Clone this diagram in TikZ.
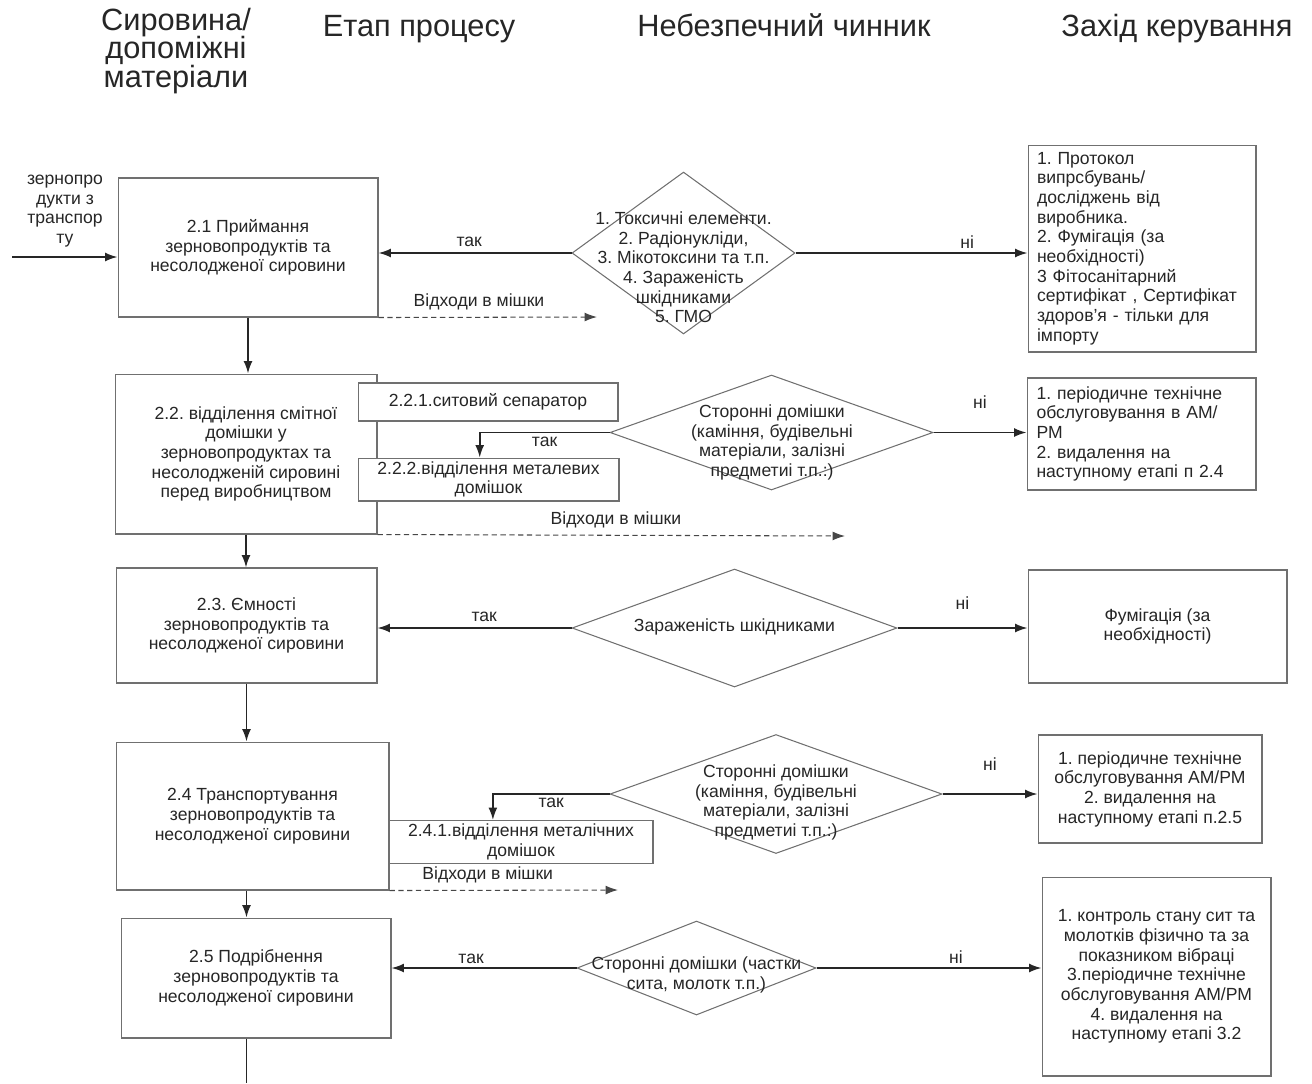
\documentclass[tikz,border=0pt]{standalone}
\usepackage{fontspec}
\setmainfont{Liberation Sans}
\usetikzlibrary{shapes.geometric,arrows.meta}
\frenchspacing
\definecolor{ink}{HTML}{262626}
\definecolor{edge}{HTML}{707070}
\newcommand\headfont{\fontsize{17.5}{16}\selectfont\lineskiplimit=-20pt\relax}
\tikzset{stage/.style={draw=edge, line width=0.6pt, fill=white, align=center, inner sep=2pt}}
\tikzset{hazard/.style={diamond, draw=edge, line width=0.6pt, inner sep=0pt}}
\tikzset{flow/.style={draw=ink, line width=0.9pt, -{Latex[length=7pt,width=5pt]}}}
\tikzset{waste/.style={draw=ink!85, line width=0.6pt, densely dashed, -{Latex[length=7pt,width=5pt]}}}
\tikzset{lbl/.style={text=ink, inner sep=1pt}}
\tikzset{head/.style={text=ink, align=center, font=\headfont}}

\begin{document}
\begin{tikzpicture}[x=0.02cm, y=-0.02cm, font=\fontsize{10}{11.2}\selectfont, text=ink]
  \useasboundingbox (0,0) rectangle (1312,1083);
  % column headings
  \node[head] (hraw) at (176,51) {Сировина/\\допоміжні\\матеріали};
  \node[head, anchor=base] (hstep) at (419,36) {Етап процесу};
  \node[head, anchor=base] (hhaz) at (784,36) {Небезпечний чинник};
  \node[head, anchor=base] (hctl) at (1177,36) {Захід керування};

  % 2.1
  \coordinate (in) at (12,257);
  \node[lbl, align=center] (src) at (65,211) {зернопро\\дукти з\\транспор\\ту};
  \node[stage, minimum width=5.2cm, minimum height=2.78cm] (box21) at (248,247.5) {2.1 Приймання\\зерновопродуктів та\\несолодженої сировини};
  \node[hazard, minimum width=4.46cm, minimum height=3.24cm] (d1) at (683.5,253) {};
  \node[lbl, align=center] (d1t) at (683.5,267.5) {1. Токсичні елементи.\\2. Радіонукліди,\\3. Мікотоксини та т.п.\\4. Зараженість\\шкідниками\\5. ГМО};
  \node[stage, align=left, text width=4.2cm, minimum width=4.56cm, minimum height=4.14cm] (ctrl1) at (1142,248.5) {1. Протокол\\випрсбувань/\\досліджень від\\виробника.\\2. Фумігація (за\\необхідності)\\3 Фітосанітарний\\сертифікат , Сертифікат\\здоров'я - тільки для\\імпорту};
  \coordinate (w1) at (597,317);
  \draw[flow] (in) -- (in -| box21.west);
  \draw[flow] (d1.west) -- node[lbl, above=2pt, pos=0.53] (y1) {так} (box21.east |- d1.west);
  \draw[flow] (d1.east) -- node[lbl, above=1pt, pos=0.74] (n1) {ні} (d1.east -| ctrl1.west);
  \draw[waste] (box21.south east) -- node[lbl, above=3pt, pos=0.46] (w1t) {Відходи в мішки} (w1);

  % 2.2
  \node[stage, minimum width=5.24cm, minimum height=3.2cm] (box22) at (246,454) {2.2. відділення смітної\\домішки у\\зерновопродуктах та\\несолодженій сировині\\перед виробництвом};
  \node[stage, minimum width=5.2cm, minimum height=0.76cm] (box221) at (488,402) {2.2.1.ситовий сепаратор};
  \node[stage, minimum width=5.22cm, minimum height=0.82cm] (box222) at (488.5,479.5) {2.2.2.відділення металевих\\домішок};
  \node[hazard, minimum width=6.46cm, minimum height=2.3cm] (d2) at (771.5,432.5) {};
  \node[lbl, align=center] (d2t) at (772,442.5) {Сторонні домішки\\(каміння, будівельні\\матеріали, залізні\\предметиі т.п.:)};
  \node[stage, align=left, text width=4.2cm, minimum width=4.58cm, minimum height=2.24cm] (ctrl2) at (1141.5,434) {1. періодичне технічне\\обслуговування в АМ/\\РМ\\2. видалення на\\наступному етапі п 2.4};
  \coordinate (w2) at (845,536);
  \draw[flow] (box21.south) -- (box21.south |- box22.north);
  \draw[flow] (d2.west) -| node[lbl, below=1pt, pos=0.25] (y2) {так} ([xshift=-5pt]box222.north);
  \draw[flow] (d2.east) -- node[lbl, above=12pt] (n2) {ні} (d2.east -| ctrl2.west);
  \draw[waste] (box22.south east) -- node[lbl, above=3pt, pos=0.51] (w2t) {Відходи в мішки} (w2);

  % 2.3
  \node[stage, minimum width=5.22cm, minimum height=2.3cm] (box23) at (246.5,625.5) {2.3. Ємності\\зерновопродуктів та\\несолодженої сировини};
  \node[hazard, minimum width=6.5cm, minimum height=2.36cm] (d3) at (734.5,628) {};
  \node[lbl] (d3t) at (734.5,627) {Зараженість шкідниками};
  \node[stage, minimum width=5.18cm, minimum height=2.26cm] (ctrl3) at (1157.5,626.5) {Фумігація (за\\необхідності)};
  \draw[flow] (box22.south) -- (box22.south |- box23.north);
  \draw[flow] (d3.west) -- node[lbl, above=2pt, pos=0.45] (y3) {так} (box23.east |- d3.west);
  \draw[flow] (d3.east) -- node[lbl, above=9pt] (n3) {ні} (d3.east -| ctrl3.west);

  % 2.4
  \node[stage, minimum width=5.46cm, minimum height=2.96cm] (box24) at (252.5,816) {2.4 Транспортування\\зерновопродуктів та\\несолодженої сировини};
  \node[stage, minimum width=5.28cm, minimum height=0.8cm] (box241) at (521,842) {2.4.1.відділення металічних\\домішок};
  \node[hazard, minimum width=6.64cm, minimum height=2.38cm] (d4) at (776,794) {};
  \node[lbl, align=center] (d4t) at (776,802.5) {Сторонні домішки\\(каміння, будівельні\\матеріали, залізні\\предметиі т.п.:)};
  \node[stage, minimum width=4.48cm, minimum height=2.16cm] (ctrl4) at (1150,789) {1. періодичне технічне\\обслуговування АМ/РМ\\2. видалення на\\наступному етапі п.2.5};
  \coordinate (w4) at (618,890);
  \draw[flow] (box23.south) -- (box23.south |- box24.north);
  \draw[flow] (d4.west) -| node[lbl, below=1pt, pos=0.25] (y4) {так} ([xshift=-16pt]box241.north);
  \draw[flow] (d4.east) -- node[lbl, above=12pt] (n4) {ні} (d4.east -| ctrl4.west);
  \draw[waste] (box24.south east) -- node[lbl, above=3pt, pos=0.43] (w4t) {Відходи в мішки} (w4);

  % 2.5
  \node[stage, minimum width=5.4cm, minimum height=2.4cm] (box25) at (256,978) {2.5 Подрібнення\\зерновопродуктів та\\несолодженої сировини};
  \node[hazard, minimum width=4.78cm, minimum height=1.88cm] (d5) at (696.5,968) {};
  \node[lbl, align=center] (d5t) at (696.5,975) {Сторонні домішки (частки\\сита, молотк т.п.)};
  \node[stage, minimum width=4.58cm, minimum height=3.98cm] (ctrl5) at (1156.5,976.5) {1. контроль стану сит та\\молотків фізично та за\\показником вібраці\\3.періодичне технічне\\обслуговування АМ/РМ\\4. видалення на\\наступному етапі 3.2};
  \coordinate (out) at (246.5,1083);
  \draw[flow] (box24.south -| box23.south) -- (box23.south |- box25.north);
  \draw[flow] (d5.west) -- node[lbl, above=1pt, pos=0.57] (y5) {так} (box25.east |- d5.west);
  \draw[flow] (d5.east) -- node[lbl, above=1pt, pos=0.62] (n5) {ні} (d5.east -| ctrl5.west);
  \draw[draw=ink, line width=0.9pt] (box25.south -| box23.south) -- (out);
\end{tikzpicture}
\end{document}
